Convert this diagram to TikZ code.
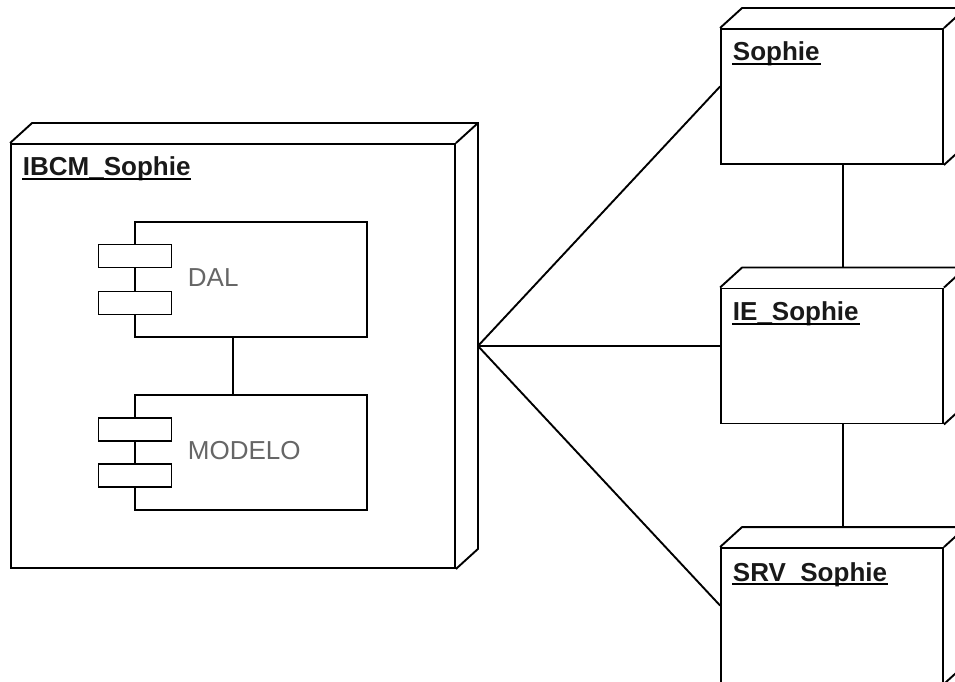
\documentclass[tikz,border=0pt]{standalone}
\usepackage{fontspec}
\setmainfont{Liberation Sans}
\usetikzlibrary{calc}
\newcommand\depthbox[1]{%
  \draw[line join=miter] (#1.north west) -- ++(22,20) -- ($(#1.north east)+(22,20)$)
    -- ($(#1.south east)+(22,20)$) -- (#1.south east);
  \draw (#1.north east) -- ++(22,20);}
\newcommand\underlined[1]{%
  \draw[line width=1.9pt] ([yshift=-2.6pt]#1.base west) -- ([yshift=-2.6pt]#1.base east);}
\begin{document}
\begin{tikzpicture}[x=1pt,y=1pt,line width=1.9pt,
  face/.style={draw, fill=white, inner sep=0pt},
  bignode/.style={face, minimum width=444pt, minimum height=424pt},
  smallnode/.style={face, minimum width=222pt, minimum height=135pt},
  comp/.style={face, minimum width=232pt, minimum height=115pt},
  port/.style={face, minimum width=73pt, minimum height=23pt},
  title/.style={anchor=base west, inner sep=0pt, text=black!90,
    font=\bfseries\fontsize{26}{31}\selectfont},
  complabel/.style={anchor=base west, inner sep=0pt, text=black!60,
    font=\fontsize{26}{31}\selectfont}]
\clip (0,0) rectangle (955,681);
\fill[white] (0,0) rectangle (955,681);

% deployment nodes (front faces)
\node[bignode] (ibcm) at (233,325) {};
\node[smallnode] (sophie) at (832,584.5) {};
\node[smallnode] (ie) at (832,325) {};
\node[smallnode] (srv) at (832,65.5) {};
\depthbox{ibcm}
\depthbox{sophie}
\depthbox{ie}
\depthbox{srv}

% node titles
\node[title] (tibcm) at (22,505) {IBCM\_Sophie};
\node[title] (tsophie) at (732,620) {Sophie};
\node[title] (tie) at (732,360) {IE\_Sophie};
\node[title] (tsrv) at (732,100) {SRV\_Sophie};
\underlined{tibcm}
\underlined{tsophie}
\underlined{tie}
\underlined{tsrv}

% components
\node[comp] (dal) at (251,401.5) {};
\node[port] (dalp1) at (135,425) {};
\node[port] (dalp2) at (135,378) {};
\node[complabel] (dallbl) at (187,395) {DAL};
\node[comp] (modelo) at (251,228.5) {};
\node[port] (modp1) at (135,251.5) {};
\node[port] (modp2) at (135,205.5) {};
\node[complabel] (modlbl) at (187,222) {MODELO};
\draw ($(dal.south)+(-18,0)$) -- ($(modelo.north)+(-18,0)$);

% communication paths
\coordinate (hub) at ($(ibcm.east)+(22,10)$);
\draw (hub) -- ($(sophie.west)+(0,10)$);
\draw (hub) -- ($(ie.west)+(0,10)$);
\draw (hub) -- ($(srv.west)+(0,10)$);
\draw ($(sophie.south)+(11,0)$) -- ($(ie.north)+(11,20)$);
\draw ($(ie.south)+(11,0)$) -- ($(srv.north)+(11,20)$);
\end{tikzpicture}
\end{document}
